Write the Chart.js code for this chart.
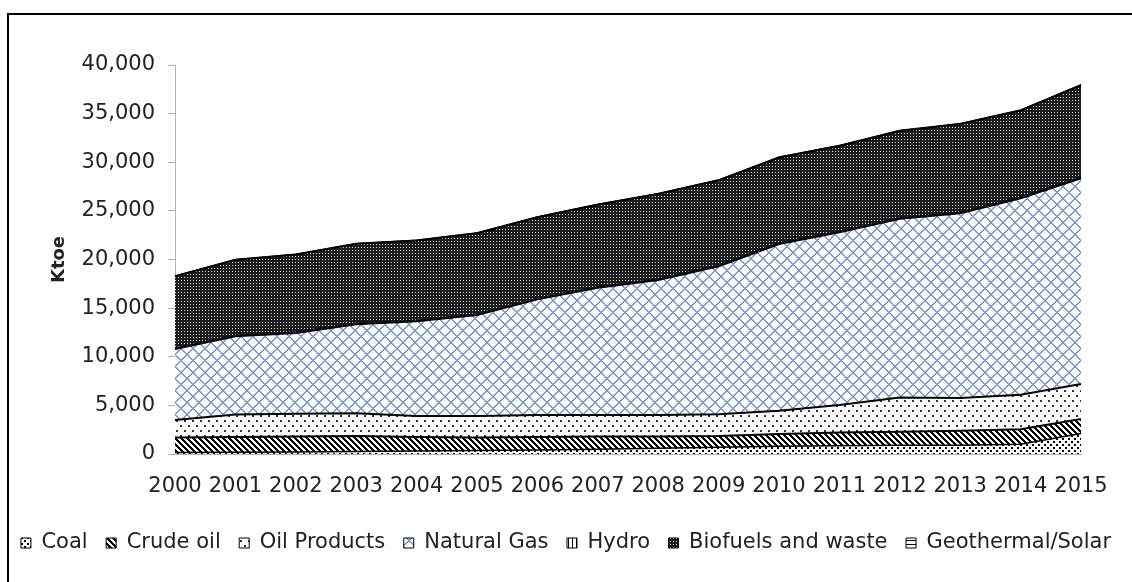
<!DOCTYPE html>
<html>
<head>
<meta charset="utf-8">
<script src="https://cdn.jsdelivr.net/npm/chart.js@4.4.0/dist/chart.umd.min.js"></script>
<style>
  html, body { margin: 0; padding: 0; background: #fff; }
  #wrap { position: relative; width: 1132px; height: 582px; overflow: hidden; }
  #frame { position: absolute; left: 7px; top: 13px; width: 1200px; height: 700px;
           border-left: 2px solid #000; border-top: 2px solid #000; }
  canvas { position: absolute; left: 0; top: 0; }
</style>
</head>
<body>
<div id="wrap">
  <div id="frame"></div>
  <canvas id="energyChart" width="1132" height="582"></canvas>
</div>
<script>
// Values in ktoe
const years = ["2000", "2001", "2002", "2003", "2004", "2005", "2006", "2007",
               "2008", "2009", "2010", "2011", "2012", "2013", "2014", "2015"];
const coal        = [150, 180, 200, 250, 300, 350, 400, 500, 600, 700, 800, 850, 900, 900, 1000, 2100];
const crudeOil    = [1550, 1570, 1600, 1600, 1450, 1350, 1350, 1300, 1200, 1150, 1250, 1350, 1400, 1500, 1550, 1500];
const oilProducts = [1800, 2300, 2350, 2350, 2150, 2200, 2250, 2200, 2200, 2250, 2400, 2850, 3500, 3350, 3550, 3600];
const naturalGas  = [7300, 8050, 8300, 9150, 9750, 10400, 11900, 13100, 13900, 15200, 17150, 17750, 18400, 19000, 20200, 21150];
const hydro       = [120, 130, 120, 130, 120, 120, 130, 120, 110, 120, 130, 120, 110, 120, 130, 120];
const biofuels    = [7350, 7740, 7940, 8130, 8190, 8280, 8320, 8420, 8730, 8720, 8750, 8760, 8910, 9050, 8880, 9440];
const geothermal  = [30, 30, 40, 40, 40, 50, 50, 60, 60, 60, 70, 70, 80, 80, 90, 90];

const FONT = "DejaVu Sans";
const TEXT = "#222222";
const AXIS = "#b3b3b3";

const ctx = document.getElementById("energyChart").getContext("2d");

// small tiled fills, like the Excel pattern fills
function makePattern(w, h, bg, fg, isOn) {
  const c = document.createElement("canvas");
  c.width = w;
  c.height = h;
  const g = c.getContext("2d");
  g.fillStyle = bg;
  g.fillRect(0, 0, w, h);
  g.fillStyle = fg;
  for (let y = 0; y < h; y++) {
    for (let x = 0; x < w; x++) {
      if (isOn(x, y)) g.fillRect(x, y, 1, 1);
    }
  }
  return ctx.createPattern(c, "repeat");
}

const coalFill = makePattern(6, 6, "#fff", "#000",
  (x, y) => (x < 2 && y < 2) || (x >= 3 && x < 5 && y >= 3 && y < 5));
const crudeFill = makePattern(6, 6, "#fff", "#000",
  (x, y) => ((x - y + 6) % 6) < 3);
const oilFill = makePattern(8, 10, "#fff", "#333",
  (x, y) => (x < 2 && y < 2) || (x >= 4 && x < 6 && y >= 5 && y < 7));
const gasFill = makePattern(12, 12, "#fff", "#7a9ad6",
  (x, y) => ((x - y + 12) % 12) < 2 || ((x + y) % 12) < 2);
const hydroFill = makePattern(4, 4, "#fff", "#000", (x, y) => x === 0);
const bioFill = makePattern(3, 3, "#1c1c1c", "#e0e0e0", (x, y) => x === 1 && y === 1);
const geoFill = makePattern(4, 4, "#fff", "#000", (x, y) => y === 0);

function series(label, data, fill, pattern, width) {
  return {
    label: label,
    data: data,
    fill: fill,
    backgroundColor: pattern,
    borderColor: "#000",
    borderWidth: width,
    pointRadius: 0,
    tension: 0,
  };
}

new Chart(ctx, {
  type: "line",
  data: {
    labels: years,
    datasets: [
      series("Coal", coal, "origin", coalFill, 1.5),
      series("Crude oil", crudeOil, "-1", crudeFill, 2),
      series("Oil Products", oilProducts, "-1", oilFill, 2),
      series("Natural Gas", naturalGas, "-1", gasFill, 2),
      series("Hydro", hydro, "-1", hydroFill, 1),
      series("Biofuels and waste", biofuels, "-1", bioFill, 2),
      series("Geothermal/Solar", geothermal, "-1", geoFill, 1),
    ],
  },
  options: {
    responsive: false,
    animation: false,
    devicePixelRatio: 1,
    layout: { padding: { top: 65, left: 0, right: 0, bottom: 18.5 } },
    plugins: {
      legend: {
        position: "bottom",
        labels: {
          boxWidth: 10,
          boxHeight: 10,
          padding: 18.5,
          color: TEXT,
          font: { family: FONT, size: 21 },
          generateLabels: function (chart) {
            return Chart.defaults.plugins.legend.labels
              .generateLabels(chart)
              .map((item) => ({ ...item, lineWidth: 1, strokeStyle: "#000" }));
          },
        },
      },
      tooltip: { enabled: false },
    },
    scales: {
      x: {
        grid: { display: false, drawTicks: false },
        border: { color: AXIS, width: 1 },
        ticks: {
          color: TEXT,
          font: { family: FONT, size: 21 },
          padding: 20,
          maxRotation: 0,
          autoSkip: false,
        },
        afterFit: function (scale) { scale.height = 60; },
      },
      y: {
        stacked: true,
        min: 0,
        max: 40000,
        grid: { drawOnChartArea: false, color: AXIS, tickLength: 7 },
        border: { color: AXIS, width: 1 },
        ticks: {
          stepSize: 5000,
          padding: 13,
          color: TEXT,
          font: { family: FONT, size: 21 },
          callback: (v) => v.toLocaleString("en-US"),
        },
        title: {
          display: true,
          text: "Ktoe",
          color: TEXT,
          font: { family: FONT, size: 18, weight: "bold" },
          padding: { top: 49, bottom: 0 },
        },
        afterFit: function (scale) { scale.width = 175; },
      },
      // empty right axis, only to keep the plot off the right edge
      yRight: {
        position: "right",
        grid: { display: false },
        border: { display: false },
        ticks: { display: false },
        afterFit: function (scale) { scale.width = 51; },
      },
    },
  },
});
</script>
</body>
</html>
